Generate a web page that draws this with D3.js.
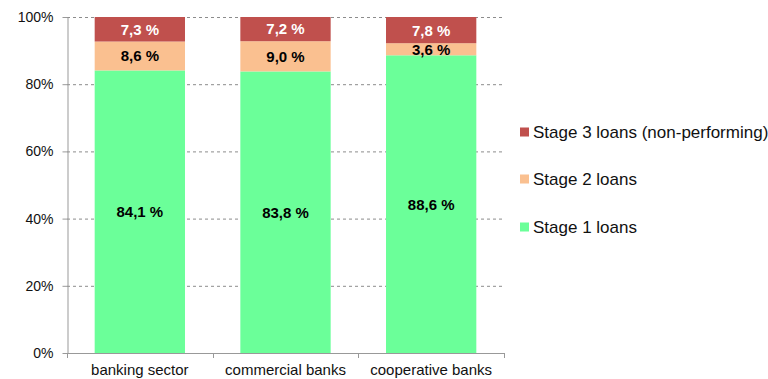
<!DOCTYPE html>
<html><head><meta charset="utf-8">
<script src="https://cdn.jsdelivr.net/npm/d3@7"></script>
<style>body{margin:0;background:#fff}svg{display:block;font-family:Arial,"Liberation Sans",sans-serif}</style>
</head><body><svg id="c" width="768" height="379"></svg>
<script>
const categories = ["banking sector", "commercial banks", "cooperative banks"];
const stage1 = [84.1, 83.8, 88.6];
const stage2 = [8.6, 9.0, 3.6];
const stage3 = [7.3, 7.2, 7.8];
const yTicks = [0, 20, 40, 60, 80, 100];
const seriesNames = ["Stage 1 loans", "Stage 2 loans", "Stage 3 loans (non-performing)"];
const colors = ["#6BFF99", "#FAC090", "#C0504D"];
const labelColors = ["#000", "#000", "#fff"];

const svg = d3.select("#c");
const x = d3.scaleBand().domain(categories).range([67, 504]).paddingInner(0.38).paddingOuter(0.19);
const xb = d3.scaleBand().domain(categories).range([67, 504]);
const y = d3.scaleLinear().domain([0, 100]).range([353, 17]);

// gridlines
svg.append("g").selectAll("line").data(yTicks.filter(d => d > 0)).join("line")
  .attr("x1", 67).attr("x2", 504).attr("y1", d => y(d) + 0.5).attr("y2", d => y(d) + 0.5)
  .attr("stroke", "#8c8c8c").attr("stroke-dasharray", "3,3").attr("stroke-width", 1);

// stacked data
const rows = categories.map((c, i) => ({cat: c, s1: stage1[i], s2: stage2[i], s3: stage3[i]}));
const stack = d3.stack().keys(["s1", "s2", "s3"])(rows);

const g = svg.append("g");
stack.forEach((layer, li) => {
  g.append("g").selectAll("rect").data(layer).join("rect")
    .attr("x", d => x(d.data.cat)).attr("width", x.bandwidth())
    .attr("y", d => y(d[1])).attr("height", d => y(d[0]) - y(d[1]))
    .attr("fill", colors[li]);
  g.append("g").selectAll("text").data(layer).join("text")
    .attr("x", d => x(d.data.cat) + x.bandwidth() / 2)
    .attr("y", d => (y(d[0]) + y(d[1])) / 2)
    .attr("dy", "0.36em").attr("text-anchor", "middle")
    .attr("font-size", 15).attr("font-weight", "bold").attr("fill", labelColors[li])
    .text(d => (d[1] - d[0]).toFixed(1).replace(".", ",") + " %");
});

// y axis
const ya = svg.append("g").attr("transform", "translate(67.5,0)")
  .call(d3.axisLeft(y).tickValues(yTicks).tickFormat(d => d + "%").tickSize(5).tickSizeOuter(0));
ya.select(".domain").attr("stroke", "#999");
ya.selectAll(".tick line").attr("stroke", "#999");
ya.selectAll(".tick text").attr("font-size", 14).attr("fill", "#111").attr("font-family", "Arial,'Liberation Sans',sans-serif").attr("x", -14);

// x axis
svg.append("line").attr("x1", 67).attr("x2", 504).attr("y1", 353.5).attr("y2", 353.5).attr("stroke", "#999");
const bounds = [67].concat(categories.map(c => xb(c) + xb.bandwidth()));
svg.append("g").selectAll("line").data(bounds).join("line")
  .attr("x1", d => Math.round(d) + 0.5).attr("x2", d => Math.round(d) + 0.5).attr("y1", 353).attr("y2", 358)
  .attr("stroke", "#999");
svg.append("g").selectAll("text").data(categories).join("text")
  .attr("x", d => xb(d) + xb.bandwidth() / 2).attr("y", 375)
  .attr("text-anchor", "middle").attr("font-size", 15).attr("fill", "#111").text(d => d);

// legend
const legY = [227, 179, 132];
const lg = svg.append("g");
seriesNames.forEach((n, i) => {
  lg.append("rect").attr("x", 520).attr("y", legY[i] - 4.5).attr("width", 9).attr("height", 9).attr("fill", colors[i]);
  lg.append("text").attr("x", 533).attr("y", legY[i]).attr("dy", "0.36em")
    .attr("font-size", 17).attr("fill", "#111").text(n);
});
</script></body></html>
